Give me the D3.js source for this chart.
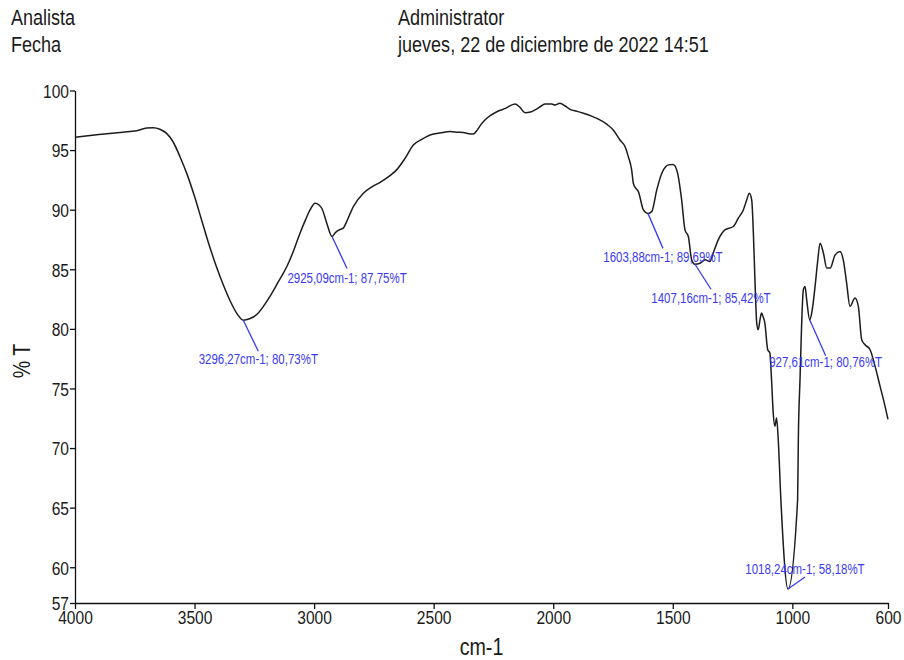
<!DOCTYPE html>
<html>
<head>
<meta charset="utf-8">
<script src="https://cdn.jsdelivr.net/npm/d3@7"></script>
<style>
  html, body { margin: 0; padding: 0; background: #fff; }
  svg { display: block; font-family: "Liberation Sans", Arial, sans-serif; }
</style>
</head>
<body>
<svg id="chart" width="904" height="660"></svg>
<script>
// IR spectrum: transmittance (%T) against wavenumber (cm-1)
const wavenumber = [
  4000, 3900, 3800, 3742, 3700, 3673, 3645, 3617, 3590, 3560, 3530, 3500, 3470, 3440, 3410,
  3380, 3350, 3320, 3296.27, 3270, 3240, 3210, 3184, 3150, 3114, 3085, 3059, 3037, 3017, 2996,
  2980, 2968, 2947, 2925.09, 2910, 2890, 2878, 2864, 2836, 2794, 2760, 2724, 2680, 2655, 2620,
  2585, 2550, 2515, 2470, 2432, 2400, 2376, 2345, 2334, 2320, 2300, 2278, 2236, 2200, 2160,
  2140, 2118, 2095, 2076, 2050, 2034, 2006, 1993, 1972, 1950, 1930, 1900, 1874, 1840, 1805,
  1775, 1749, 1721, 1700, 1686, 1672, 1665, 1655, 1644, 1623, 1603.88, 1588, 1567, 1546, 1530,
  1518, 1500, 1491, 1477, 1463, 1449, 1435, 1421, 1407.16, 1386, 1365, 1345, 1331, 1310, 1282,
  1247, 1226, 1205, 1191, 1180, 1170, 1163, 1156, 1149, 1143, 1135, 1129, 1122, 1115, 1103,
  1094, 1087, 1080, 1073, 1066, 1059, 1048, 1018.24, 978, 975, 968, 954, 947, 940, 927.61,
  919, 905, 895, 884, 870, 856, 842, 821, 801, 787, 773, 759, 738, 724, 710,
  696, 675, 654, 633, 619, 600
];
const transmittance = [
  96.08, 96.3, 96.5, 96.63, 96.85, 96.88, 96.75, 96.4, 95.7, 94.4, 92.9, 91.1, 89.1, 87.1, 85.3,
  83.7, 82.3, 81.2, 80.73, 80.85, 81.2, 81.95, 82.75, 83.94, 85.23, 86.6, 88.03, 89.1, 89.98, 90.54,
  90.4, 90.12, 88.87, 87.75, 88.1, 88.35, 88.45, 89.0, 90.26, 91.38, 91.9, 92.3, 92.9, 93.34, 94.3,
  95.43, 95.9, 96.27, 96.45, 96.55, 96.5, 96.47, 96.35, 96.35, 96.63, 97.2, 97.67, 98.22, 98.5, 98.87,
  98.6, 98.14, 98.2, 98.37, 98.7, 98.87, 98.87, 98.78, 98.93, 98.7, 98.42, 98.25, 98.09, 97.85, 97.53,
  97.15, 96.69, 95.85, 95.3, 94.45, 93.34, 92.22, 91.8, 91.52, 89.98, 89.69, 89.84, 91.66, 93.06, 93.6,
  93.76, 93.8, 93.67, 92.78, 90.82, 88.31, 87.75, 85.79, 85.42, 85.51, 85.79, 85.65, 86.35, 87.47, 88.31,
  88.59, 89.29, 89.98, 90.82, 91.38, 90.82, 88.03, 83.84, 80.49, 79.93, 80.8, 81.33, 81.0, 80.49, 78.25,
  77.97, 75.73, 72.94, 71.82, 72.52, 70.7, 65.67, 58.18, 65.67, 70.7, 75.73, 83.28, 83.56, 82.44, 80.76,
  81.33, 83.56, 85.51, 87.19, 86.35, 85.1, 85.1, 86.21, 86.49, 85.79, 83.84, 81.88, 82.58, 81.88, 79.09,
  78.67, 78.25, 76.85, 75.17, 74.06, 72.4
];

// Labelled peaks
const peakWavenumber = [3296.27, 2925.09, 1603.88, 1407.16, 1018.24, 927.61];
const peakTransmittance = [80.73, 87.75, 89.69, 85.42, 58.18, 80.76];

// Axis ticks
const xTicks = [4000, 3500, 3000, 2500, 2000, 1500, 1000, 600];
const yTicks = [57, 60, 65, 70, 75, 80, 85, 90, 95, 100];

// Header texts
const headerLabels = ["Analista", "Fecha"];
const headerValues = ["Administrator", "jueves, 22 de diciembre de 2022 14:51"];

// Leader-line offsets (px) for the peak labels
const leaderOffsets = [[15, 31], [15, 32], [15, 35], [16, 25], [17, -12], [16, 36]];
const labelShift = [13, 14, 14, 14, -3, 11];

// Horizontal squeeze giving a condensed face from Liberation Sans
const NARROW = 0.82;

const svg = d3.select("#chart");
const plotLeft = 75, plotRight = 888, plotTop = 90.5, plotBottom = 603;

const x = d3.scaleLinear().domain([4000, 600]).range([plotLeft, plotRight]);
const y = d3.scaleLinear().domain([57, 100]).range([plotBottom, plotTop]);

function narrowText(parent, tx, ty, str, size, extra = "") {
  return parent.append("text")
    .attr("transform", `translate(${tx},${ty}) ${extra} scale(${NARROW},1)`)
    .style("font-size", size + "px")
    .text(str);
}

// Header
const header = svg.append("g").attr("fill", "#1a1a1a");
headerLabels.forEach((t, i) => narrowText(header, 11, 25 + i * 27, t, 22));
headerValues.forEach((t, i) => narrowText(header, 398, 25 + i * 27, t, 22));

// Axes
const xAxis = d3.axisBottom(x).tickValues(xTicks).tickFormat(d3.format("d"))
  .tickSize(6).tickSizeOuter(0).tickPadding(2);
const yAxis = d3.axisLeft(y).tickValues(yTicks).tickFormat(d3.format("d"))
  .tickSize(5).tickSizeOuter(0).tickPadding(1);

const gx = svg.append("g").attr("transform", `translate(0,${plotBottom})`).call(xAxis);
const gy = svg.append("g").attr("transform", `translate(${plotLeft},0)`).call(yAxis);
[gx, gy].forEach(g => {
  g.attr("font-family", null).attr("font-size", null);
  g.selectAll("path, line").attr("stroke", "#111").attr("stroke-width", 1.3);
  g.selectAll("text").attr("fill", "#1a1a1a").style("font-size", "19px");
});
gx.selectAll("text").each(function () {
  const t = d3.select(this);
  const ty = +t.attr("y");
  t.attr("y", 0).attr("transform", `translate(0,${ty}) scale(${NARROW},1)`);
});
gy.selectAll("text").each(function () {
  const t = d3.select(this);
  const tx = +t.attr("x");
  t.attr("x", 0).attr("dy", "0.36em").attr("transform", `translate(${tx},0) scale(${NARROW},1)`);
});

// Axis titles
const titles = svg.append("g").attr("fill", "#1a1a1a").attr("text-anchor", "middle");
narrowText(titles, (plotLeft + plotRight) / 2, 655, "cm-1", 24);
narrowText(titles, 30, 361, "% T", 24, "rotate(-90)");

// Spectrum trace
const pts = wavenumber.map((w, i) => [w, transmittance[i]]);
svg.append("path")
  .datum(pts)
  .attr("fill", "none")
  .attr("stroke", "#1c1c1c")
  .attr("stroke-width", 1.5)
  .attr("stroke-linejoin", "round")
  .attr("d", d3.line().x(d => x(d[0])).y(d => y(d[1])).curve(d3.curveMonotoneX));

// Peak annotations
const fmt = v => v.toFixed(2).replace(".", ",");
const blue = "#3a3af5";
const ann = svg.append("g").attr("fill", blue).attr("text-anchor", "middle");
peakWavenumber.forEach((w, i) => {
  const px = x(w), py = y(peakTransmittance[i]);
  const [dx, dy] = leaderOffsets[i];
  ann.append("line")
    .attr("x1", px).attr("y1", py)
    .attr("x2", px + dx).attr("y2", py + dy)
    .attr("stroke", blue).attr("stroke-width", 1.3);
  narrowText(ann, px + dx, py + dy + labelShift[i],
    `${fmt(w)}cm-1; ${fmt(peakTransmittance[i])}%T`, 14);
});
</script>
</body>
</html>
